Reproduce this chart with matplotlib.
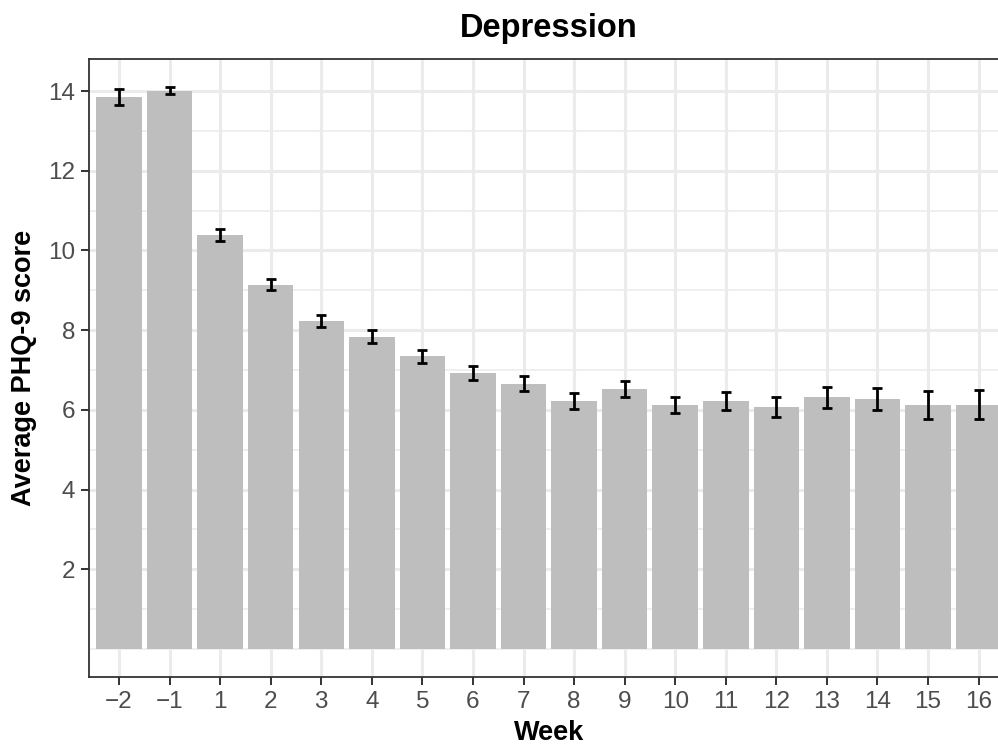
#!/usr/bin/env python3

"""Bar chart of average PHQ-9 score by week, with standard error bars."""

import matplotlib
matplotlib.use("Agg")
import matplotlib.pyplot as plt
from matplotlib.ticker import MultipleLocator

plt.rcParams["font.family"] = ["Liberation Sans", "DejaVu Sans"]

weeks = ["\u22122", "\u22121", "1", "2", "3", "4", "5", "6", "7", "8",
         "9", "10", "11", "12", "13", "14", "15", "16"]
scores = [13.85, 14.01, 10.38, 9.14, 8.22, 7.84, 7.34, 6.92, 6.66, 6.23,
          6.52, 6.12, 6.23, 6.08, 6.31, 6.28, 6.13, 6.13]
errors = [0.21, 0.09, 0.15, 0.14, 0.15, 0.17, 0.17, 0.18, 0.18, 0.20,
          0.20, 0.20, 0.23, 0.25, 0.27, 0.28, 0.35, 0.36]

positions = list(range(1, len(weeks) + 1))

fig = plt.figure(figsize=(9.98, 7.46), dpi=100)
ax = fig.add_axes([0.0889, 0.0925, 0.922, 0.8284])

ax.bar(positions, scores, width=0.9, color="#BEBEBE", zorder=2)
ax.errorbar(positions, scores, yerr=errors, fmt="none", ecolor="black",
            elinewidth=2.0, capsize=3.8, capthick=2.0, zorder=3)

top = max(s + e for s, e in zip(scores, errors))
ax.set_ylim(-0.05 * top, top * 1.05)
ax.set_xlim(0.4, len(weeks) + 0.6)

ax.set_xticks(positions)
ax.set_xticklabels(weeks)
ax.yaxis.set_major_locator(MultipleLocator(2))
ax.yaxis.set_minor_locator(MultipleLocator(1))
ax.set_yticks([2, 4, 6, 8, 10, 12, 14])

ax.set_axisbelow(True)
ax.grid(which="major", color="#EBEBEB", linewidth=2.2, zorder=0)
ax.grid(which="minor", axis="y", color="#EBEBEB", linewidth=1.1, zorder=0)

for spine in ax.spines.values():
    spine.set_color("#333333")
    spine.set_linewidth(1.3)

ax.tick_params(axis="both", which="major", length=5.8, width=1.4,
               color="#333333", labelcolor="#4D4D4D", labelsize=17.5, pad=4)
ax.tick_params(axis="y", which="minor", length=0)

ax.set_title("Depression", fontsize=23.5, fontweight="bold", pad=16)
ax.set_xlabel("Week", fontsize=19.5, fontweight="bold", labelpad=5)
ax.set_ylabel("Average PHQ-9 score", fontsize=19.5, fontweight="bold", labelpad=8)

fig.savefig("out.png", dpi=100)
